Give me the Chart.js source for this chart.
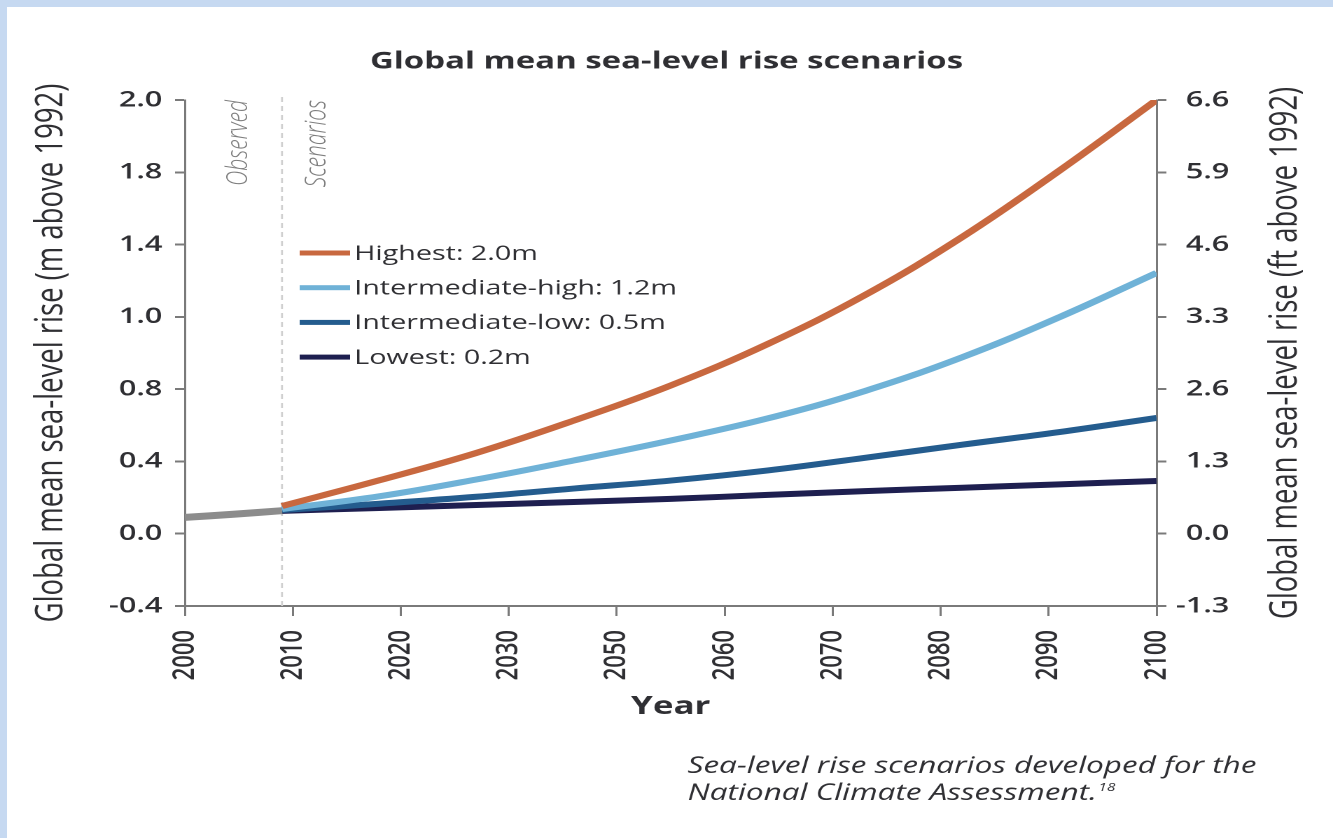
<!DOCTYPE html>
<html>
<head>
<meta charset="utf-8">
<title>Global mean sea-level rise scenarios</title>
<script src="https://cdn.jsdelivr.net/npm/chart.js@4.4.1/dist/chart.umd.min.js"></script>
<style>
  html, body { margin: 0; padding: 0; }
  body { width: 1333px; height: 838px; background: #c6d9f1; overflow: hidden; position: relative; }
  #panel { position: absolute; left: 7px; top: 7px; right: 0; bottom: 0; background: #fff; }
  /* the reference is a horizontally stretched figure, so the canvas is stretched the same way */
  #wrap { position: absolute; left: 0; top: 0; width: 952px; height: 838px; transform: scaleX(1.40021); transform-origin: 0 0; }
</style>
</head>
<body>
<div id="panel"></div>
<div id="wrap"><canvas id="chart" width="952" height="838"></canvas></div>
<script>
// Data (metres above 1992)
const observedYears = [2000, 2005, 2010];
const observedValues = [0.02, 0.035, 0.052];

const scenarioYears = [2010, 2020, 2030, 2040, 2050, 2060, 2070, 2080, 2090, 2100];
const highest = [0.074, 0.196, 0.326, 0.479, 0.646, 0.843, 1.075, 1.35, 1.665, 2.0];
const intermediateHigh = [0.06, 0.12, 0.20, 0.29, 0.385, 0.49, 0.62, 0.78, 0.97, 1.18];
const intermediateLow = [0.055, 0.085, 0.118, 0.157, 0.195, 0.243, 0.303, 0.365, 0.425, 0.492];
const lowest = [0.051, 0.065, 0.079, 0.093, 0.108, 0.127, 0.145, 0.161, 0.177, 0.193];

const seriesNames = ['Highest: 2.0m', 'Intermediate-high: 1.2m', 'Intermediate-low: 0.5m', 'Lowest: 0.2m'];
const seriesColors = ['#c8683f', '#6fb2d7', '#245c8e', '#1e1f50'];

// Tick labels as printed on the figure (evenly spaced along each axis)
const xTickLabels = ['2000', '2010', '2020', '2030', '2050', '2060', '2070', '2080', '2090', '2100'];
const yTickLabels = ['-0.4', '0.0', '0.4', '0.8', '1.0', '1.4', '1.8', '2.0'];
const yFtTickLabels = ['-1.3', '0.0', '1.3', '2.6', '3.3', '4.6', '5.9', '6.6'];
const dividerYear = 2010;

const X_MIN = 2000, X_MAX = 2100, Y_MIN = -0.4, Y_MAX = 2.0;
const TEXT = '#2f2f33';
const AXIS = '#7a7a7a';

const toPoints = (xs, ys) => xs.map((x, i) => ({ x: x, y: ys[i] }));

const scenarioSets = [highest, intermediateHigh, intermediateLow, lowest].map((vals, i) => ({
    label: seriesNames[i],
    data: toPoints(scenarioYears, vals),
    borderColor: seriesColors[i],
    order: i + 1
}));

const datasets = scenarioSets.concat([{
    label: 'Observed',
    data: toPoints(observedYears, observedValues),
    borderColor: '#8c8c8c',
    borderWidth: 7,
    order: 0
}]);

const evenTicks = (labels, min, max) => scale => {
    scale.ticks = labels.map((_, i) => ({ value: min + i * (max - min) / (labels.length - 1) }));
};

// Divider, texts and legend drawn on top of the chart
const decor = {
    id: 'decor',
    beforeDatasetsDraw(chart) {
        const { ctx, chartArea, scales } = chart;
        const x = scales.x.getPixelForValue(dividerYear);
        ctx.save();
        ctx.strokeStyle = '#cfcfcf';
        ctx.lineWidth = 1.4;
        ctx.setLineDash([5, 4]);
        ctx.beginPath();
        ctx.moveTo(x, chartArea.top - 3);
        ctx.lineTo(x, chartArea.bottom);
        ctx.stroke();
        ctx.restore();
    },
    afterDraw(chart) {
        const { ctx, chartArea, scales } = chart;
        const midY = (chartArea.top + chartArea.bottom) / 2;
        ctx.save();
        ctx.fillStyle = TEXT;

        // title
        ctx.font = 'bold 23.5px "Open Sans"';
        ctx.textAlign = 'center';
        ctx.textBaseline = 'middle';
        ctx.fillText('Global mean sea-level rise scenarios', 476, 62);

        // Observed / Scenarios
        const dx = scales.x.getPixelForValue(dividerYear);
        ctx.fillStyle = '#7d7d7d';
        ctx.font = 'italic 300 21px "Open Sans"';
        ctx.textAlign = 'right';
        [['Observed', dx - 31], ['Scenarios', dx + 25]].forEach(([t, x]) => {
            ctx.save();
            ctx.translate(x, chartArea.top);
            ctx.rotate(-Math.PI / 2);
            ctx.fillText(t, 0, 0);
            ctx.restore();
        });

        // right axis title
        ctx.fillStyle = TEXT;
        ctx.font = '27.5px "Open Sans"';
        ctx.textAlign = 'center';
        ctx.save();
        ctx.translate(918, midY);
        ctx.rotate(-Math.PI / 2);
        ctx.fillText('Global mean sea-level rise (ft above 1992)', 0, 0);
        ctx.restore();

        // legend
        ctx.font = '500 20.5px "Open Sans"';
        ctx.textAlign = 'left';
        scenarioSets.forEach((ds, i) => {
            const y = 253 + i * 34.7;
            ctx.fillStyle = ds.borderColor;
            ctx.fillRect(214, y - 2.5, 36, 5);
            ctx.fillStyle = TEXT;
            ctx.fillText(ds.label, 253, y + 1);
        });

        // footnote
        ctx.font = 'italic 22.5px "Open Sans"';
        ctx.textBaseline = 'alphabetic';
        ctx.fillText('Sea-level rise scenarios developed for the', 491, 773);
        const line2 = 'National Climate Assessment.';
        ctx.fillText(line2, 491, 800);
        const w = ctx.measureText(line2).width;
        ctx.font = 'italic 11px "Open Sans"';
        ctx.fillText('18', 491 + w + 1, 791);
        ctx.restore();
    }
};

const tickFont = { family: 'Open Sans', size: 22, weight: '600' };

new Chart(document.getElementById('chart'), {
    type: 'line',
    data: { datasets: datasets },
    options: {
        responsive: false,
        animation: false,
        devicePixelRatio: 2,
        layout: { padding: { top: 100, left: 0, right: 74, bottom: 0 } },
        plugins: {
            legend: { display: false },
            tooltip: { enabled: false },
            title: { display: false }
        },
        elements: {
            point: { radius: 0 },
            line: { borderWidth: 6, borderCapStyle: 'butt', tension: 0.4, fill: false }
        },
        scales: {
            x: {
                type: 'linear',
                min: X_MIN,
                max: X_MAX,
                afterBuildTicks: evenTicks(xTickLabels, X_MIN, X_MAX),
                afterFit: s => { s.height = 232; },
                ticks: {
                    autoSkip: false, minRotation: 90, maxRotation: 90, padding: 14,
                    color: TEXT, font: tickFont,
                    callback: (v, i) => xTickLabels[i]
                },
                grid: { drawOnChartArea: false, tickLength: 10, lineWidth: 1.5, color: AXIS },
                border: { color: AXIS, width: 2 },
                title: {
                    display: true, text: 'Year', color: TEXT,
                    font: { family: 'Open Sans', size: 25, weight: 'bold' },
                    padding: { top: 0, bottom: 116 }
                }
            },
            y: {
                position: 'left',
                min: Y_MIN,
                max: Y_MAX,
                afterBuildTicks: evenTicks(yTickLabels, Y_MIN, Y_MAX),
                afterFit: s => { s.width = 132; },
                ticks: { padding: 9, color: TEXT, font: tickFont, callback: (v, i) => yTickLabels[i] },
                grid: { drawOnChartArea: false, tickLength: 7, lineWidth: 2, color: AXIS },
                border: { color: AXIS, width: 1.5 },
                title: {
                    display: true, text: 'Global mean sea-level rise (m above 1992)', color: TEXT,
                    font: { family: 'Open Sans', size: 27.5 },
                    padding: { top: 20, bottom: 0 }
                }
            },
            y2: {
                position: 'right',
                min: Y_MIN,
                max: Y_MAX,
                afterBuildTicks: evenTicks(yFtTickLabels, Y_MIN, Y_MAX),
                afterFit: s => { s.width = 52; },
                ticks: { crossAlign: 'far', padding: 4, color: TEXT, font: tickFont, callback: (v, i) => yFtTickLabels[i] },
                grid: { drawOnChartArea: false, tickLength: 7, lineWidth: 2, color: AXIS },
                border: { color: AXIS, width: 1.5 }
            }
        }
    },
    plugins: [decor]
});
</script>
</body>
</html>
